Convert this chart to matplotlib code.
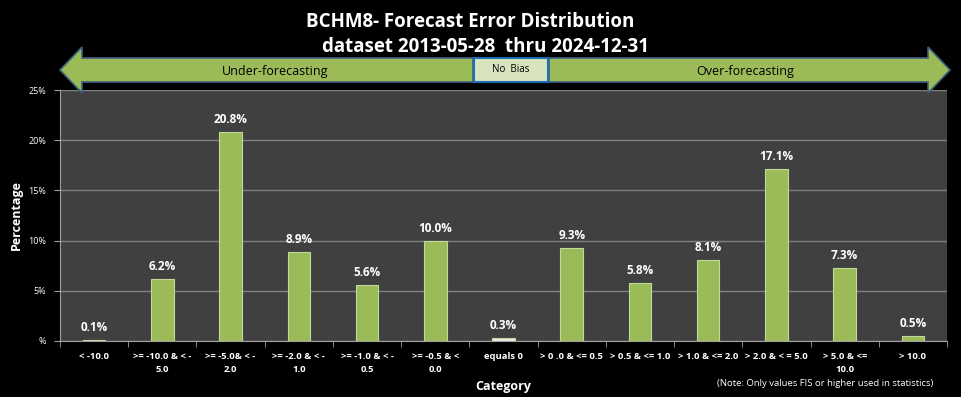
import numpy as np
import matplotlib
matplotlib.use("Agg")
import matplotlib.pyplot as plt
from matplotlib.patches import Polygon, Rectangle

plt.rcParams['font.family'] = ['Open Sans', 'DejaVu Sans']

categories = ["< -10.0", ">= -10.0 & < -\n5.0", ">= -5.0& < -\n2.0", ">= -2.0 & < -\n1.0",
              ">= -1.0 & < -\n0.5", ">= -0.5 & <\n0.0", "equals 0", "> 0 .0 & <= 0.5",
              "> 0.5 & <= 1.0", "> 1.0 & <= 2.0", "> 2.0 & < = 5.0", "> 5.0 & <=\n10.0", "> 10.0"]
values = [0.1, 6.2, 20.8, 8.9, 5.6, 10.0, 0.3, 9.3, 5.8, 8.1, 17.1, 7.3, 0.5]
y_ticks = [0, 5, 10, 15, 20, 25]
y_tick_labels = ["%", "5%", "10%", "15%", "20%", "25%"]

W, H = 961, 397
fig = plt.figure(figsize=(W / 100, H / 100), dpi=100, facecolor='black')
ax = fig.add_axes([60 / W, 1 - 341 / H, 887 / W, 251 / H])
ax.set_facecolor('#404040')

x = np.arange(len(categories))
colors = ['#9bbb59'] * len(categories)
colors[6] = '#e8e8e8'
bars = ax.bar(x, values, width=0.33, color=colors, edgecolor='#c3d99a', linewidth=0.8, zorder=3)
for xi, v in zip(x, values):
    ax.text(xi, v + 0.6, f"{v:.1f}%", ha='center', va='bottom', color='white',
            fontsize=8.5, fontweight='bold', zorder=4)

ax.set_xlim(-0.5, len(categories) - 0.5)
ax.set_ylim(0, 25)
ax.set_yticks(y_ticks)
ax.set_yticklabels(y_tick_labels, color='white', fontsize=6.5)
ax.yaxis.grid(True, color='#808080', linewidth=1, zorder=1)
ax.set_xticks(np.arange(len(categories) + 1) - 0.5, minor=True)
ax.set_xticks(x)
ax.set_xticklabels(categories, color='white', fontsize=6.8, fontweight='bold', linespacing=1.6)
ax.tick_params(axis='x', which='major', length=0, pad=8)
ax.tick_params(axis='x', which='minor', length=4, color='#a0a0a0')
ax.tick_params(axis='y', length=4, color='#a0a0a0', pad=6)
for side in ['top', 'right']:
    ax.spines[side].set_visible(False)
ax.spines['left'].set_color('#a0a0a0')
ax.spines['bottom'].set_color('#a0a0a0')

ax.set_ylabel("Percentage", color='white', fontsize=9, fontweight='bold', labelpad=4)
ax.set_xlabel("Category", color='white', fontsize=9, fontweight='bold', labelpad=4)

fig.text(470 / W, 1 - 22 / H, "BCHM8- Forecast Error Distribution", ha='center', va='center',
         color='white', fontsize=13.5, fontweight='bold')
fig.text(486 / W, 1 - 47 / H, "dataset 2013-05-28  thru 2024-12-31", ha='center', va='center',
         color='white', fontsize=13.5, fontweight='bold')
fig.text(825 / W, 1 - 383 / H, "(Note: Only values FIS or higher used in statistics)", ha='center',
         va='center', color='white', fontsize=6.8)

# bias arrows (pixel coords -> figure fraction)
def fp(pts):
    return [(px / W, 1 - py / H) for px, py in pts]

left_arrow = fp([(60, 70), (82, 47), (82, 58), (473, 58), (473, 82), (82, 82), (82, 93)])
right_arrow = fp([(950, 70), (928, 47), (928, 58), (549, 58), (549, 82), (928, 82), (928, 93)])
for pts in (left_arrow, right_arrow):
    fig.patches.append(Polygon(pts, closed=True, transform=fig.transFigure,
                               facecolor='#9bbb59', edgecolor='#3e6080', linewidth=1.2))
fig.patches.append(Rectangle((474 / W, 1 - 82 / H), 74 / W, 24 / H, transform=fig.transFigure,
                             facecolor='#d7e4bd', edgecolor='#1f6fb5', linewidth=1.5))
fig.text(275 / W, 1 - 71 / H, "Under-forecasting", ha='center', va='center', color='black', fontsize=9)
fig.text(745 / W, 1 - 71 / H, "Over-forecasting", ha='center', va='center', color='black', fontsize=9)
fig.text(511 / W, 1 - 70 / H, "No  Bias", ha='center', va='center', color='black', fontsize=7)

fig.savefig("out.png", dpi=100, facecolor='black')
